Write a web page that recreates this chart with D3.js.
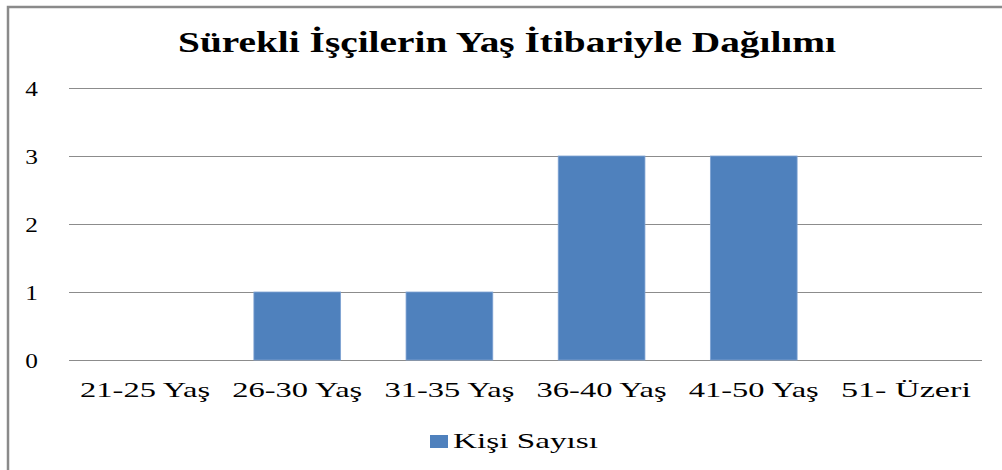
<!DOCTYPE html>
<html>
<head>
<meta charset="utf-8">
<script src="https://cdn.jsdelivr.net/npm/d3@7"></script>
<style>
  html, body { margin: 0; padding: 0; background: #fff; }
  svg { display: block; }
  svg text { font-family: 'Liberation Serif', 'DejaVu Serif', serif; fill: #000; }
</style>
</head>
<body>
<svg id="chart" width="1002" height="470"></svg>
<script>
const title = "Sürekli İşçilerin Yaş İtibariyle Dağılımı";
const categories = ["21-25 Yaş", "26-30 Yaş", "31-35 Yaş", "36-40 Yaş", "41-50 Yaş", "51- Üzeri"];
const values = [0, 1, 1, 3, 3, 0];
const seriesName = "Kişi Sayısı";
const yTicks = [0, 1, 2, 3, 4];

const FONT = "'Liberation Serif', 'DejaVu Serif', serif";
const svg = d3.select("#chart");
const W = 1002, H = 470;
const plot = { left: 69, right: 982, top: 88, bottom: 360 };

// outer border
svg.append("rect")
  .attr("x", 8).attr("y", 7)
  .attr("width", W + 10).attr("height", H + 10)
  .attr("fill", "none").attr("stroke", "#8a8a8a").attr("stroke-width", 2.5);

const x = d3.scaleBand().domain(categories).range([plot.left, plot.right]).paddingInner(0.43).paddingOuter(0.215);
const y = d3.scaleLinear().domain([0, 4]).range([plot.bottom, plot.top]);

// gridlines
svg.append("g").selectAll("line").data(yTicks).join("line")
  .attr("x1", plot.left).attr("x2", plot.right)
  .attr("y1", d => Math.round(y(d)) + 0.5).attr("y2", d => Math.round(y(d)) + 0.5)
  .attr("stroke", "#8c8c8c").attr("stroke-width", 1.2);

// y labels
const yAxis = d3.axisLeft(y).tickValues(yTicks).tickSize(0).tickPadding(0).tickFormat(d3.format("d"));
const gy = svg.append("g").attr("transform", "translate(38,0)").call(yAxis);
gy.attr("font-family", FONT);
gy.select(".domain").remove();
gy.selectAll("text")
  .style("font-family", FONT).attr("font-size", 22)
  .attr("fill", "#000").attr("dy", "0.36em").attr("x", 0)
  .attr("transform", "scale(1.15,1)");

// bars
svg.append("g").selectAll("rect").data(values).join("rect")
  .attr("x", (d, i) => x(categories[i]))
  .attr("width", x.bandwidth())
  .attr("y", d => y(d))
  .attr("height", d => y(0) - y(d))
  .attr("fill", "#4F81BD")
  .attr("stroke", "#7fa3d3").attr("stroke-width", d => d > 0 ? 0.8 : 0);

// x labels
const xAxis = d3.axisBottom(x).tickSize(0).tickPadding(0);
const gx = svg.append("g").attr("transform", "translate(0,397)").call(xAxis);
gx.attr("font-family", FONT);
gx.select(".domain").remove();
gx.selectAll("text")
  .style("font-family", FONT).attr("font-size", 22)
  .attr("fill", "#000").attr("dy", 0).attr("y", 0)
  .attr("textLength", 130).attr("lengthAdjust", "spacingAndGlyphs");

// title
svg.append("text")
  .attr("x", 507).attr("y", 52)
  .attr("text-anchor", "middle")
  .style("font-family", FONT)
  .attr("font-size", 29).attr("font-weight", "bold")
  .attr("textLength", 658).attr("lengthAdjust", "spacingAndGlyphs")
  .text(title);

// legend
svg.append("rect").attr("x", 430).attr("y", 435).attr("width", 18).attr("height", 13).attr("fill", "#4F81BD");
svg.append("text")
  .attr("x", 453).attr("y", 448)
  .style("font-family", FONT)
  .attr("font-size", 22)
  .attr("textLength", 145).attr("lengthAdjust", "spacingAndGlyphs")
  .text(seriesName);
</script>
</body>
</html>
